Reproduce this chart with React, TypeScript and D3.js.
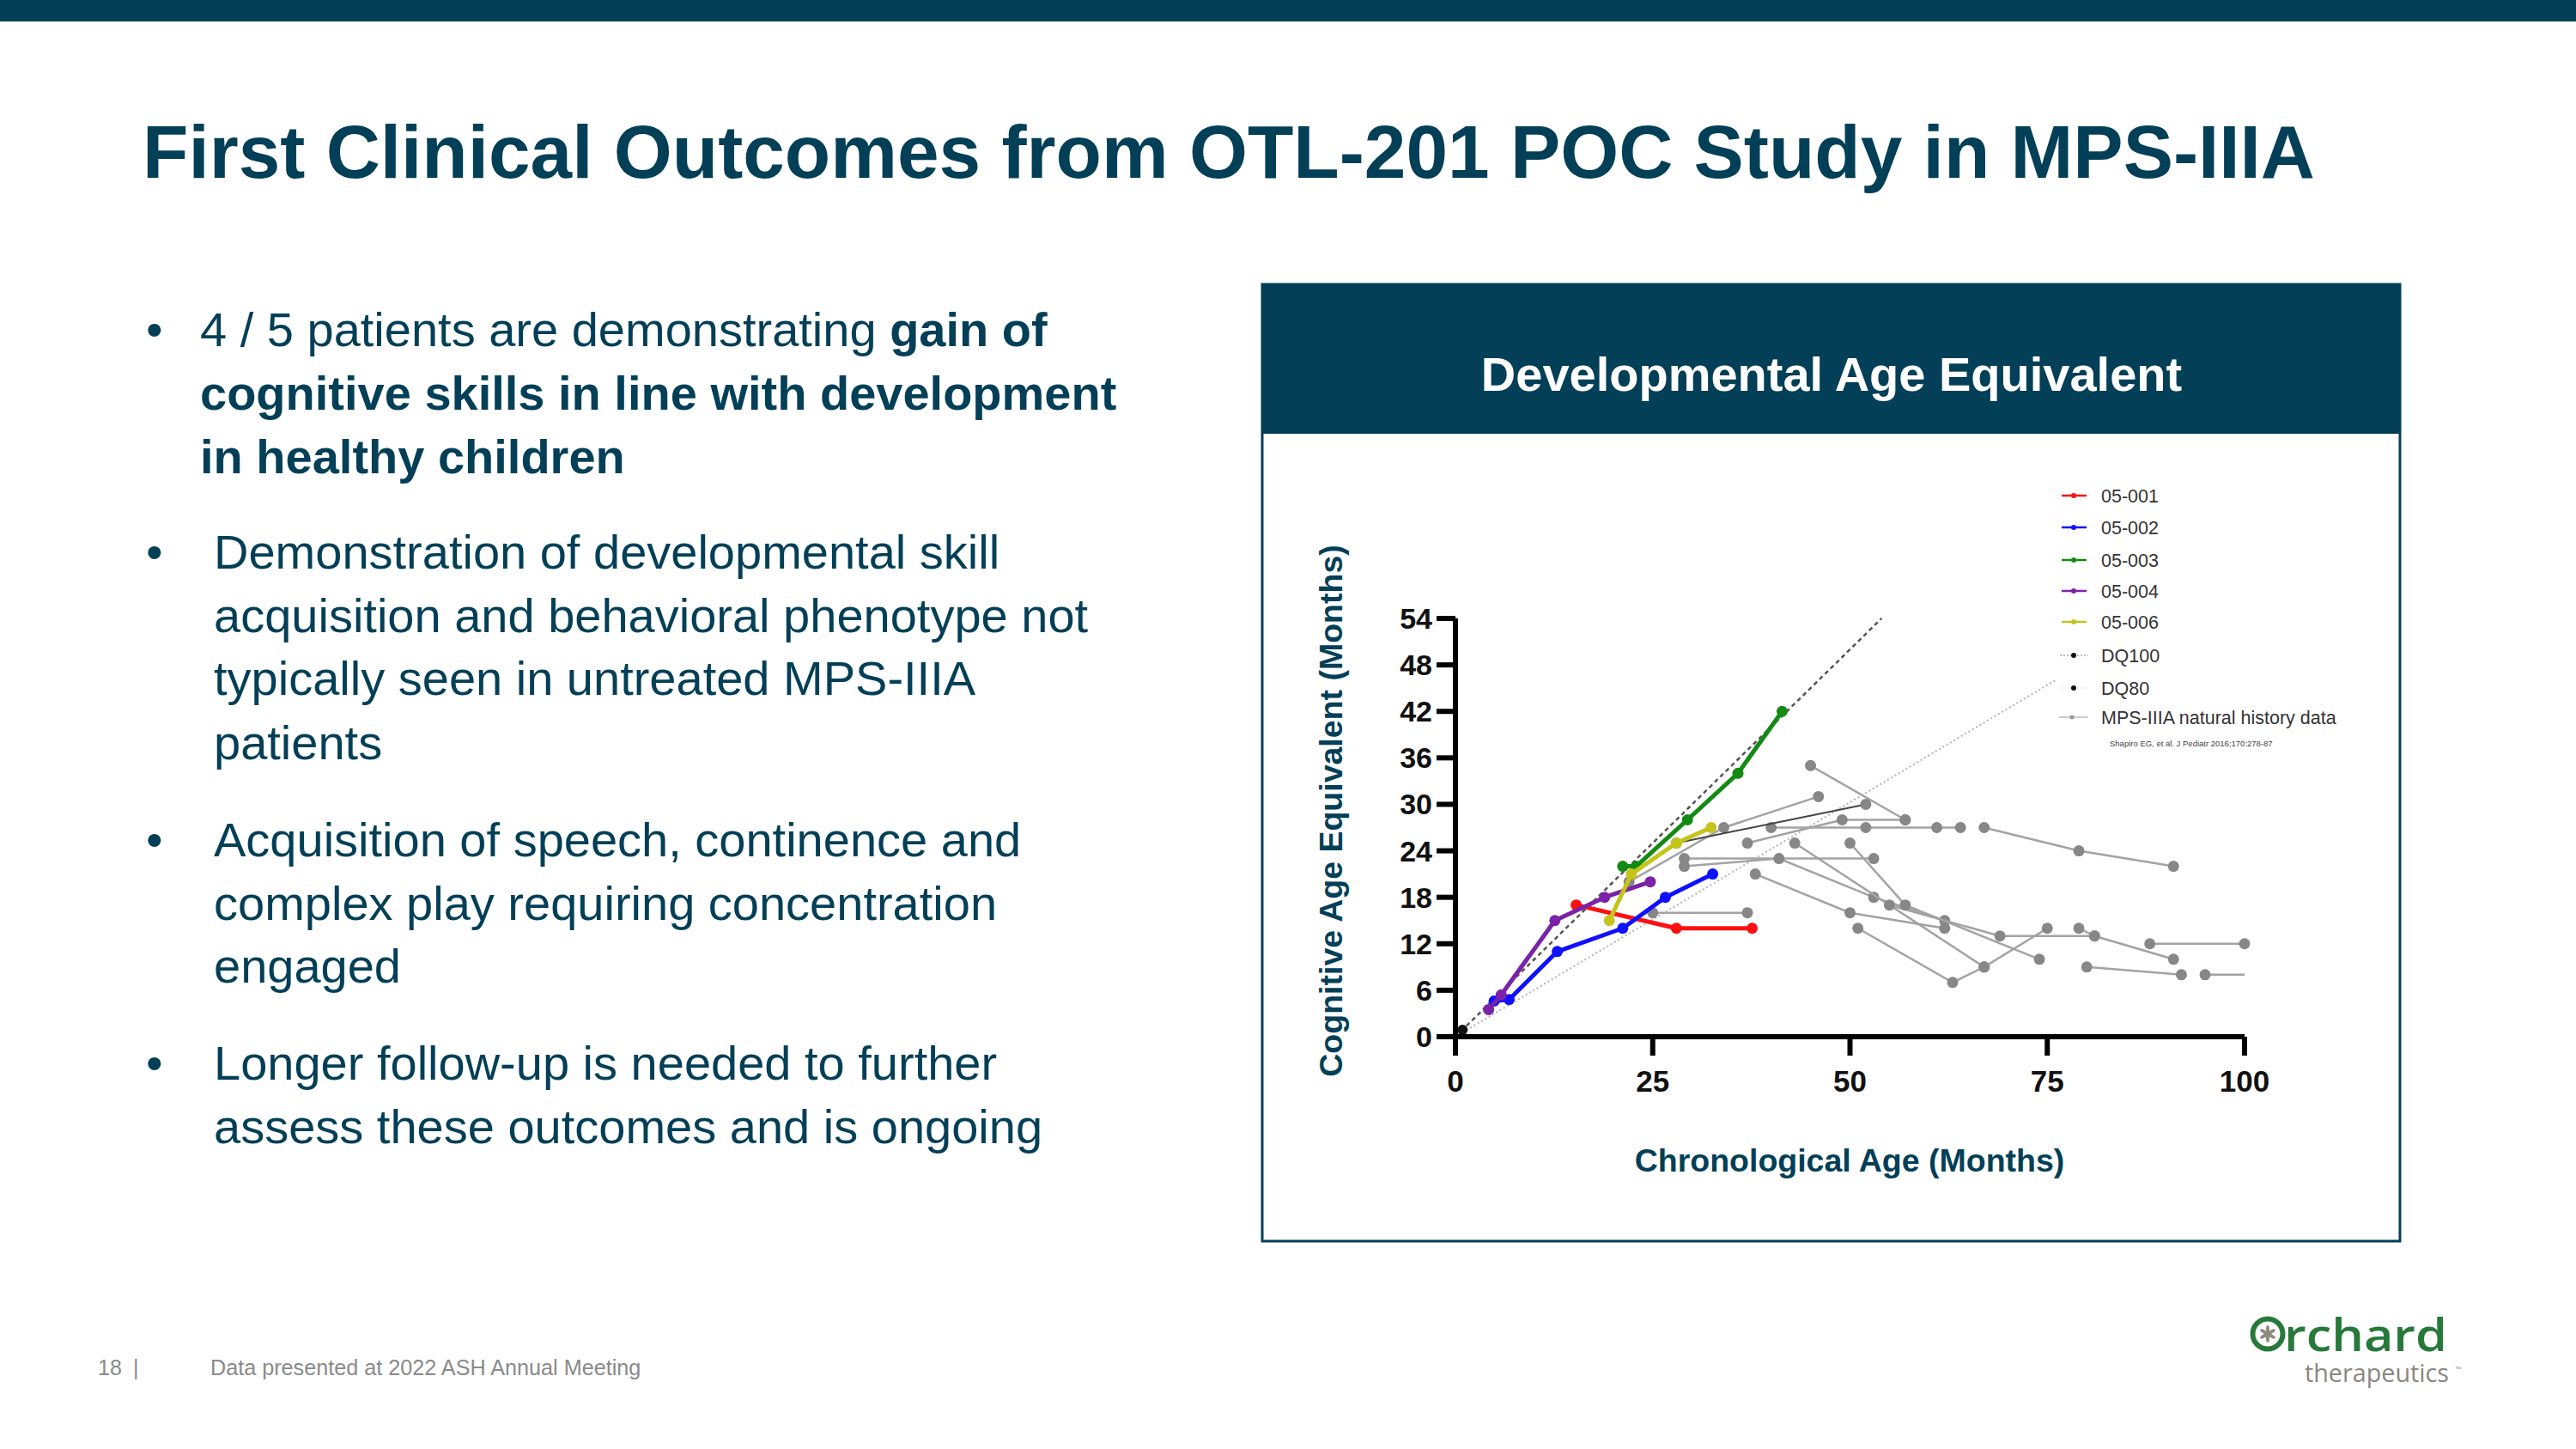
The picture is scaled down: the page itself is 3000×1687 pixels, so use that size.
import React from "react";
import * as d3 from "d3";

// ---------------- data ----------------
const xTicks = [0, 25, 50, 75, 100];
const yTicks = [0, 6, 12, 18, 24, 30, 36, 42, 48, 54];

const patientIds = ["05-001", "05-002", "05-003", "05-004", "05-006"];
const p001 = [[15.3, 17], [28, 14], [37.6, 14]];
const p002 = [[4.9, 4.6], [6.8, 4.8], [12.9, 11], [21.2, 14], [26.6, 18], [32.6, 21]];
const p003 = [[21.2, 22], [22.9, 22], [29.4, 28], [35.8, 34], [41.4, 42]];
const p004 = [[4.2, 3.5], [5.8, 5.4], [12.6, 15], [18.9, 18], [24.7, 20]];
const p006 = [[19.5, 15], [22.3, 21], [28, 25], [32.4, 27]];
const patientSeries = [p001, p002, p003, p004, p006];

const dq100Line = [[0, 0], [54, 54]];
const dq80Line = [[0, 0], [76, 46]];
const dq100Point = [0.9, 0.9];

const naturalHistory = [
  [[22, 20], [34, 27], [46, 31]],
  [[40, 27], [52, 27], [61, 27], [64, 27]],
  [[37, 25], [49, 28], [57, 28]],
  [[45, 35], [57, 28]],
  [[67, 27], [79, 24], [91, 22]],
  [[29, 23], [53, 23]],
  [[29, 22], [41, 23], [53, 18], [62, 15]],
  [[43, 25], [67, 9]],
  [[55, 17], [69, 13], [81, 13]],
  [[50, 25], [57, 17], [74, 10]],
  [[25, 16], [37, 16]],
  [[38, 21], [50, 16], [62, 14]],
  [[51, 14], [63, 7], [67, 9], [75, 14]],
  [[79, 14], [81, 13], [91, 10]],
  [[88, 12], [100, 12]],
  [[80, 9], [92, 8]],
];
const naturalHistoryDark = [[28, 25], [52, 30]];
const naturalHistoryTail = [[95, 8], [100, 8]];

const legendLabels = ["05-001", "05-002", "05-003", "05-004", "05-006", "DQ100", "DQ80", "MPS-IIIA natural history data"];
const citation = "Shapiro EG, et al. J Pediatr 2016;170:278-87";

const titleText = "First Clinical Outcomes from OTL-201 POC Study in MPS-IIIA";
const panelTitle = "Developmental Age Equivalent";
const xLabel = "Chronological Age (Months)";
const yLabel = "Cognitive Age Equivalent (Months)";

type Seg = [string, boolean];
const bullet1: Seg[][] = [
  [["4 / 5 patients are demonstrating ", false], ["gain of", true]],
  [["cognitive skills in line with development", true]],
  [["in healthy children", true]],
];
const bullet2 = ["Demonstration of developmental skill", "acquisition and behavioral phenotype not", "typically seen in untreated MPS-IIIA", "patients"];
const bullet3 = ["Acquisition of speech, continence and", "complex play requiring concentration", "engaged"];
const bullet4 = ["Longer follow-up is needed to further", "assess these outcomes and is ongoing"];
const footerPage = "18";
const footerText = "Data presented at 2022 ASH Annual Meeting";

// ---------------- styles ----------------
const TEAL = "#033f57";
const FONT = "'Liberation Sans', Arial, Helvetica, sans-serif";
const patientColors = ["#ff1010", "#1010ff", "#138a13", "#7a22a8", "#c4c41a"];
const GRAY_LINE = "#a3a3a3";
const GRAY_DOT = "#878787";

export default function App() {
  const x = d3.scaleLinear().domain([0, 100]).range([1695, 2614]);
  const y = d3.scaleLinear().domain([0, 54]).range([1207, 720]);
  const line = d3
    .line<number[]>()
    .x((d) => x(d[0]))
    .y((d) => y(d[1]));

  const bodyLines: { x: number; y: number; segs: Seg[]; bullet: boolean }[] = [];
  const b1Base = [403, 477, 551];
  bullet1.forEach((segs, i) => bodyLines.push({ x: 233, y: b1Base[i], segs, bullet: i === 0 }));
  const addBullet = (lines: string[], bases: number[]) =>
    lines.forEach((t, i) => bodyLines.push({ x: 249, y: bases[i], segs: [[t, false]], bullet: i === 0 }));
  addBullet(bullet2, [662, 736, 809, 884]);
  addBullet(bullet3, [997, 1071, 1144]);
  addBullet(bullet4, [1257, 1331]);

  const legendY = [577, 614, 652, 688, 724, 763, 801, 835];

  return (
    <svg
      width={3000}
      height={1687}
      style={{ position: "absolute", left: 0, top: 0, background: "#fff" }}
      fontFamily={FONT}
    >
      <rect x={0} y={0} width={3000} height={1687} fill="#fff" />
      <rect x={0} y={0} width={3000} height={25} fill={TEAL} />
      <text x={166} y={207} fontSize={88} fontWeight="bold" fill={TEAL} textLength={2530} lengthAdjust="spacingAndGlyphs">
        {titleText}
      </text>

      {bodyLines.map((l, i) => (
        <g key={i}>
          {l.bullet && (
            <text x={170} y={l.y} fontSize={56} fill={TEAL}>
              •
            </text>
          )}
          <text x={l.x} y={l.y} fontSize={56} fill={TEAL}>
            {l.segs.map((s, j) => (
              <tspan key={j} fontWeight={s[1] ? "bold" : "normal"}>
                {s[0]}
              </tspan>
            ))}
          </text>
        </g>
      ))}

      {/* panel */}
      <rect x={1470} y={331} width={1325} height={1114} fill="#fff" stroke={TEAL} strokeWidth={3} />
      <rect x={1470} y={331} width={1325} height={174} fill={TEAL} />
      <text x={2133} y={455} fontSize={56} fontWeight="bold" fill="#fff" textAnchor="middle">
        {panelTitle}
      </text>

      {/* reference lines */}
      <path d={line(dq80Line) || ""} fill="none" stroke="#b4b4b4" strokeWidth={2} strokeDasharray="2 3" />
      <path d={line(dq100Line) || ""} fill="none" stroke="#555" strokeWidth={2.5} strokeDasharray="5 4" />

      {/* natural history */}
      {naturalHistory.map((s, i) => (
        <g key={"nh" + i}>
          <path d={line(s) || ""} fill="none" stroke={GRAY_LINE} strokeWidth={2.5} />
          {s.map((p, j) => (
            <circle key={j} cx={x(p[0])} cy={y(p[1])} r={6.5} fill={GRAY_DOT} />
          ))}
        </g>
      ))}
      <path d={line(naturalHistoryTail) || ""} fill="none" stroke={GRAY_LINE} strokeWidth={2.5} />
      <circle cx={x(naturalHistoryTail[0][0])} cy={y(naturalHistoryTail[0][1])} r={6.5} fill={GRAY_DOT} />
      <path d={line(naturalHistoryDark) || ""} fill="none" stroke="#444" strokeWidth={2} />
      {naturalHistoryDark.map((p, j) => (
        <circle key={j} cx={x(p[0])} cy={y(p[1])} r={6.5} fill={GRAY_DOT} />
      ))}

      {/* patients */}
      {patientSeries.map((s, i) => (
        <g key={"p" + i}>
          <path d={line(s) || ""} fill="none" stroke={patientColors[i]} strokeWidth={5} strokeLinejoin="round" />
          {s.map((p, j) => (
            <circle key={j} cx={x(p[0])} cy={y(p[1])} r={6.5} fill={patientColors[i]} />
          ))}
        </g>
      ))}
      <circle cx={x(dq100Point[0])} cy={y(dq100Point[1])} r={6} fill="#111" />

      {/* axes */}
      <line x1={x(0)} x2={x(0)} y1={y(54)} y2={y(0) + 22} stroke="#000" strokeWidth={6} />
      <line x1={x(0) - 22} x2={x(100)} y1={y(0)} y2={y(0)} stroke="#000" strokeWidth={6} />
      {yTicks.map((t) => (
        <g key={"yt" + t}>
          <line x1={x(0) - 22} x2={x(0)} y1={y(t)} y2={y(t)} stroke="#000" strokeWidth={6} />
          <text x={x(0) - 27} y={y(t) + 12} fontSize={34} fontWeight="bold" textAnchor="end" fill="#111">
            {t}
          </text>
        </g>
      ))}
      {xTicks.map((t) => (
        <g key={"xt" + t}>
          <line x1={x(t)} x2={x(t)} y1={y(0)} y2={y(0) + 22} stroke="#000" strokeWidth={6} />
          <text x={x(t)} y={1271} fontSize={35} fontWeight="bold" textAnchor="middle" fill="#111">
            {t}
          </text>
        </g>
      ))}
      <text x={2154} y={1364} fontSize={37.5} fontWeight="bold" fill={TEAL} textAnchor="middle">
        {xLabel}
      </text>
      <text
        transform={`translate(1563,944) rotate(-90)`}
        fontSize={37.5}
        fontWeight="bold"
        fill={TEAL}
        textAnchor="middle"
      >
        {yLabel}
      </text>

      {/* legend */}
      {legendLabels.map((lab, i) => {
        const ly = legendY[i];
        let sym;
        if (i < 5) {
          sym = (
            <g>
              <line x1={2401} x2={2430} y1={ly} y2={ly} stroke={patientColors[i]} strokeWidth={2.5} />
              <circle cx={2415} cy={ly} r={3} fill={patientColors[i]} />
            </g>
          );
        } else if (i === 5) {
          sym = (
            <g>
              <line x1={2399} x2={2432} y1={ly} y2={ly} stroke="#aaa" strokeWidth={1.5} strokeDasharray="2 2" />
              <circle cx={2415} cy={ly} r={3} fill="#111" />
            </g>
          );
        } else if (i === 6) {
          sym = (
            <g>
              <line x1={2399} x2={2432} y1={ly} y2={ly} stroke="#ddd" strokeWidth={1} strokeDasharray="2 2" />
              <circle cx={2415} cy={ly} r={3} fill="#111" />
            </g>
          );
        } else {
          sym = (
            <g>
              <line x1={2398} x2={2432} y1={ly} y2={ly} stroke="#bbb" strokeWidth={1.5} />
              <circle cx={2413} cy={ly} r={2.5} fill="#999" />
            </g>
          );
        }
        return (
          <g key={"lg" + i}>
            {sym}
            <text x={2447} y={ly + 8} fontSize={21.5} fill="#333">
              {lab}
            </text>
          </g>
        );
      })}
      <text x={2457} y={869} fontSize={9.5} fill="#444">
        {citation}
      </text>

      {/* footer */}
      <text x={114} y={1601} fontSize={25} fill="#8a8a8a">
        {footerPage}
      </text>
      <text x={155} y={1601} fontSize={25} fill="#8a8a8a">
        |
      </text>
      <text x={245} y={1601} fontSize={25.2} fill="#8a8a8a">
        {footerText}
      </text>

      {/* logo */}
      <circle cx={2641} cy={1553} r={17.5} fill="none" stroke="#27793a" strokeWidth={6} />
      {[0, 60, 120, 180, 240, 300].map((a) => (
        <ellipse
          key={a}
          cx={2641}
          cy={1548}
          rx={2}
          ry={5}
          fill="#8d8a7e"
          transform={`rotate(${a} 2641 1553)`}
        />
      ))}
      <text x={2660} y={1573} fontSize={52} fontWeight={600} fill="#27793a" fontFamily="'Open Sans', sans-serif" textLength={190} lengthAdjust="spacingAndGlyphs">
        rchard
      </text>
      <text x={2684} y={1609} fontSize={29} fill="#8b8680" fontFamily="'Open Sans', sans-serif" textLength={168} lengthAdjust="spacingAndGlyphs">
        therapeutics
      </text>
      <text x={2859} y={1596} fontSize={7} fill="#8b8680">
        ™
      </text>
    </svg>
  );
}
